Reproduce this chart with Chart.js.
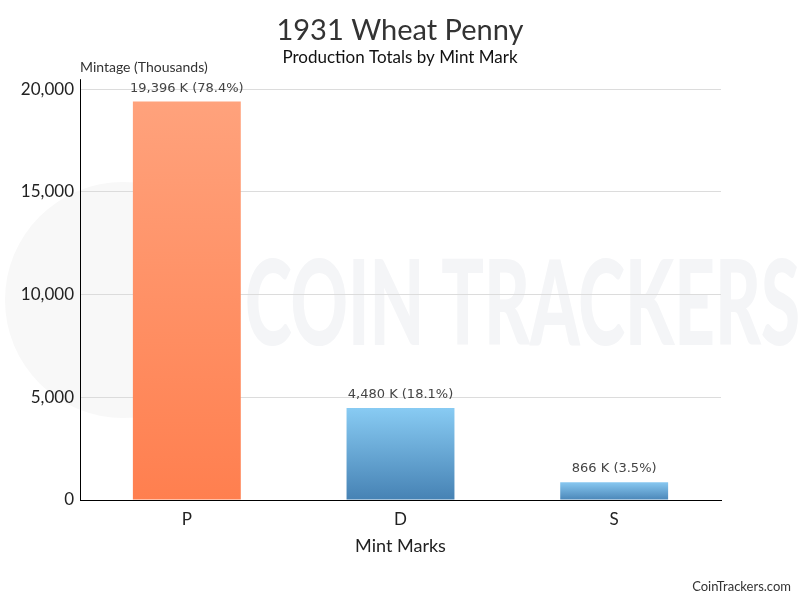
<!DOCTYPE html>
<html>
<head>
<meta charset="utf-8">
<title>1931 Wheat Penny</title>
<script src="https://cdn.jsdelivr.net/npm/chart.js@4.4.1/dist/chart.umd.min.js"></script>
<style>
  body { margin: 0; background: #fff; }
  #myChart { display: block; }
</style>
</head>
<body>
<canvas id="myChart" width="800" height="600"></canvas>
<script>
// datos (miles de monedas)
const mintMarks = ['P', 'D', 'S'];
const mintage = [19396, 4480, 866];
const yTicks = [0, 5000, 10000, 15000, 20000];

const topColors = ['#ffa27c', '#88cbf3', '#88c8f1'];
const bottomColors = ['#ff7f4f', '#4682b4', '#4a86b8'];

const total = mintage.reduce((a, b) => a + b, 0);

function barGradient(context) {
    const chart = context.chart;
    const i = context.dataIndex;
    if (!chart.chartArea) return topColors[i];
    const y = chart.scales.y;
    const top = y.getPixelForValue(mintage[i]);
    const base = y.getPixelForValue(0);
    const g = chart.ctx.createLinearGradient(0, top, 0, base);
    g.addColorStop(0, topColors[i]);
    g.addColorStop(1, bottomColors[i]);
    return g;
}

// marca de agua, etiquetas y textos extra
const extras = {
    id: 'extras',
    beforeDraw(chart) {
        const ctx = chart.ctx;
        ctx.save();
        ctx.fillStyle = '#f8f8f8';
        ctx.beginPath();
        ctx.arc(123, 300, 118, 0, Math.PI * 2);
        ctx.fill();

        ctx.font = '900 118px Lato';
        const w = ctx.measureText('COIN TRACKERS').width;
        ctx.translate(245, 345);
        ctx.scale(555 / w, 1);
        ctx.fillStyle = '#f4f5f7';
        ctx.textBaseline = 'alphabetic';
        ctx.fillText('COIN TRACKERS', 0, 0);
        ctx.restore();
    },
    afterDatasetsDraw(chart) {
        const ctx = chart.ctx;
        const meta = chart.getDatasetMeta(0);
        ctx.save();
        ctx.font = '13px "DejaVu Sans"';
        ctx.fillStyle = '#444';
        ctx.textAlign = 'center';
        ctx.textBaseline = 'alphabetic';
        meta.data.forEach((bar, i) => {
            const pct = (mintage[i] / total * 100).toFixed(1);
            const txt = mintage[i].toLocaleString('en-US') + ' K (' + pct + '%)';
            ctx.fillText(txt, bar.x, bar.y - 10);
        });
        ctx.restore();
    },
    afterDraw(chart) {
        const ctx = chart.ctx;
        const area = chart.chartArea;
        ctx.save();
        ctx.strokeStyle = '#000';
        ctx.lineWidth = 1;
        ctx.beginPath();
        ctx.moveTo(Math.round(area.left) + 0.5, area.top - 10);
        ctx.lineTo(Math.round(area.left) + 0.5, area.top);
        ctx.stroke();

        ctx.fillStyle = '#333';
        ctx.font = '14px Lato';
        ctx.textAlign = 'left';
        ctx.textBaseline = 'alphabetic';
        ctx.fillText('Mintage (Thousands)', 80, 72);

        ctx.font = '13px Lato';
        ctx.textAlign = 'right';
        ctx.fillText('CoinTrackers.com', 791, 591);
        ctx.restore();
    }
};

const ctx = document.getElementById('myChart').getContext('2d');

const myChart = new Chart(ctx, {
    type: 'bar',
    data: {
        labels: mintMarks,
        datasets: [{
            label: 'Mintage',
            data: mintage,
            backgroundColor: barGradient,
            borderWidth: 0,
            categoryPercentage: 1,
            barPercentage: 0.505
        }]
    },
    options: {
        responsive: false,
        animation: false,
        layout: {
            padding: { left: 0, right: 0, top: 0, bottom: 30 }
        },
        plugins: {
            legend: { display: false },
            tooltip: { enabled: false },
            title: {
                display: true,
                text: '1931 Wheat Penny',
                color: '#333',
                font: { family: 'Lato', size: 29, weight: 'normal' },
                padding: { top: 13, bottom: 0 }
            },
            subtitle: {
                display: true,
                text: 'Production Totals by Mint Mark',
                color: '#111',
                font: { family: 'Lato', size: 17, weight: 'normal' },
                padding: { top: 0, bottom: 21 }
            }
        },
        scales: {
            x: {
                grid: { display: false, drawTicks: false },
                border: { color: '#000', width: 1 },
                ticks: {
                    color: '#222',
                    font: { family: 'Lato', size: 17 },
                    padding: 9
                },
                title: {
                    display: true,
                    text: 'Mint Marks',
                    color: '#222',
                    font: { family: 'Lato', size: 18 },
                    padding: { top: 4, bottom: 13 }
                },
                afterFit(scale) { scale.height = 70; }
            },
            y: {
                min: 0,
                max: 20000,
                afterBuildTicks(scale) {
                    scale.ticks = yTicks.map(v => ({ value: v }));
                },
                grid: { color: '#dcdcdc', drawTicks: false },
                border: { color: '#000', width: 1 },
                ticks: {
                    color: '#222',
                    font: { family: 'Lato', size: 17 },
                    padding: 6
                },
                afterFit(scale) { scale.width = 80; }
            },
            // eje vacio para dejar el margen derecho sin descentrar el titulo
            yRight: {
                position: 'right',
                min: 0,
                max: 20000,
                grid: { display: false, drawTicks: false },
                border: { display: false },
                ticks: { display: false },
                afterFit(scale) { scale.width = 79; }
            }
        }
    },
    plugins: [extras]
});
</script>
</body>
</html>
